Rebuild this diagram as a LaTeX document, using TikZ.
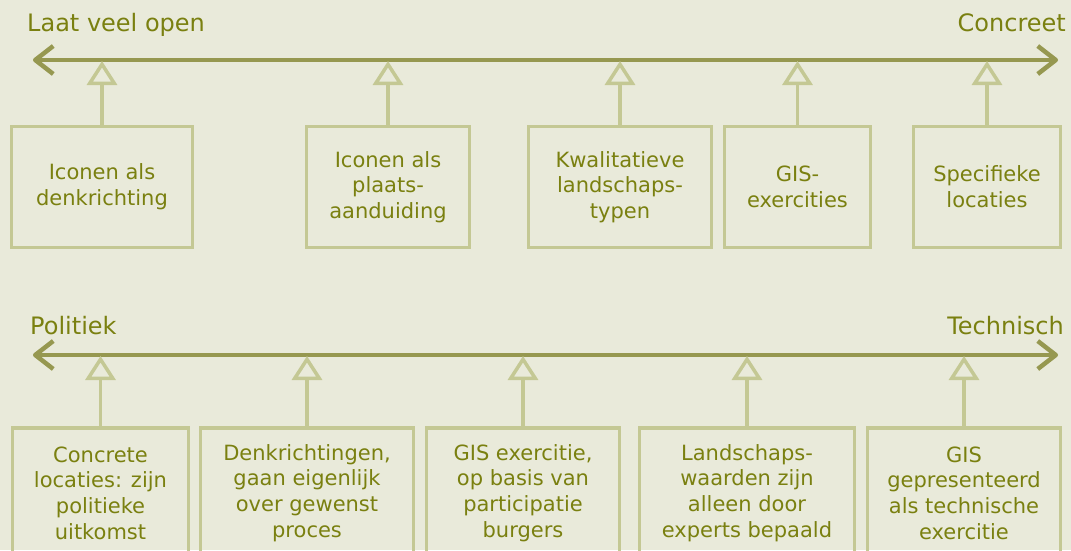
\documentclass[tikz,border=0pt]{standalone}
\usepackage{fontspec}
\setmainfont{DejaVu Sans}
\usetikzlibrary{arrows.meta}
\definecolor{bgcol}{RGB}{233,234,218}
\definecolor{textcol}{RGB}{122,128,16}
\definecolor{axiscol}{RGB}{150,152,80}
\definecolor{boxcol}{RGB}{196,200,148}

\begin{document}
\begin{tikzpicture}[x=1pt, y=-1pt,
  every node/.style={text=textcol},
  lbl/.style={inner sep=0pt, font=\fontsize{24}{28}\selectfont},
  box/.style={draw=boxcol, line width=3.5pt, align=center, inner sep=0pt,
    font=\fontsize{21}{25.7}\selectfont},
  toprow/.style={box, minimum height=121pt},
  botrow/.style={box, minimum height=130pt},
  axis/.style={draw=axiscol, line width=4.5pt, line cap=round,
    {Straight Barb[length=18pt, width=28pt, line join=round]}-{Straight Barb[length=18pt, width=28pt, line join=round]}},
  conn/.style={draw=boxcol, line width=3.5pt, -{Triangle[open, length=24pt, width=30pt]}}
]
\clip (0,0) rectangle (1071,550);
\fill[bgcol] (0,0) rectangle (1071,550);

% bovenste as
\coordinate (tl) at (33,60);
\coordinate (tr) at (1058,60);
\draw[axis] (tl) -- (tr);
\node[lbl, anchor=base west] (open) at (27,31) {Laat veel open};
\node[lbl, anchor=base east] (concreet) at (1066,31) {Concreet};

\node[toprow, minimum width=181pt] (t1) at (102,187) {Iconen als\\denkrichting};
\node[toprow, minimum width=163pt] (t2) at (388,187) {Iconen als\\plaats-\\aanduiding};
\node[toprow, minimum width=183pt] (t3) at (620,187) {Kwalitatieve\\landschaps-\\typen};
\node[toprow, minimum width=146pt] (t4) at (797.5,187) {GIS-\\exercities};
\node[toprow, minimum width=147pt] (t5) at (987,187) {Specifieke\\locaties};

\foreach \n in {t1,t2,t3,t4,t5}
  \draw[conn] (\n.north) -- ([yshift=-1pt]\n.north |- tl);

% onderste as
\coordinate (bl) at (33,355);
\coordinate (br) at (1058,355);
\draw[axis] (bl) -- (br);
\node[lbl, anchor=base west] (politiek) at (30,334) {Politiek};
\node[lbl, anchor=base east] (technisch) at (1064,334) {Technisch};

\node[botrow, minimum width=176pt] (b1) at (100.5,493) {Concrete\\locaties: zijn\\politieke\\uitkomst};
\node[botrow, minimum width=213pt] (b2) at (307,493) {Denkrichtingen,\\gaan eigenlijk\\over gewenst\\proces};
\node[botrow, minimum width=193pt] (b3) at (523,493) {GIS exercitie,\\op basis van\\participatie\\burgers};
\node[botrow, minimum width=215pt] (b4) at (747,493) {Landschaps-\\waarden zijn\\alleen door\\experts bepaald};
\node[botrow, minimum width=193pt] (b5) at (964,493) {GIS\\gepresenteerd\\als technische\\exercitie};

\foreach \n in {b1,b2,b3,b4,b5}
  \draw[conn] (\n.north) -- ([yshift=-1pt]\n.north |- bl);
\end{tikzpicture}
\end{document}
